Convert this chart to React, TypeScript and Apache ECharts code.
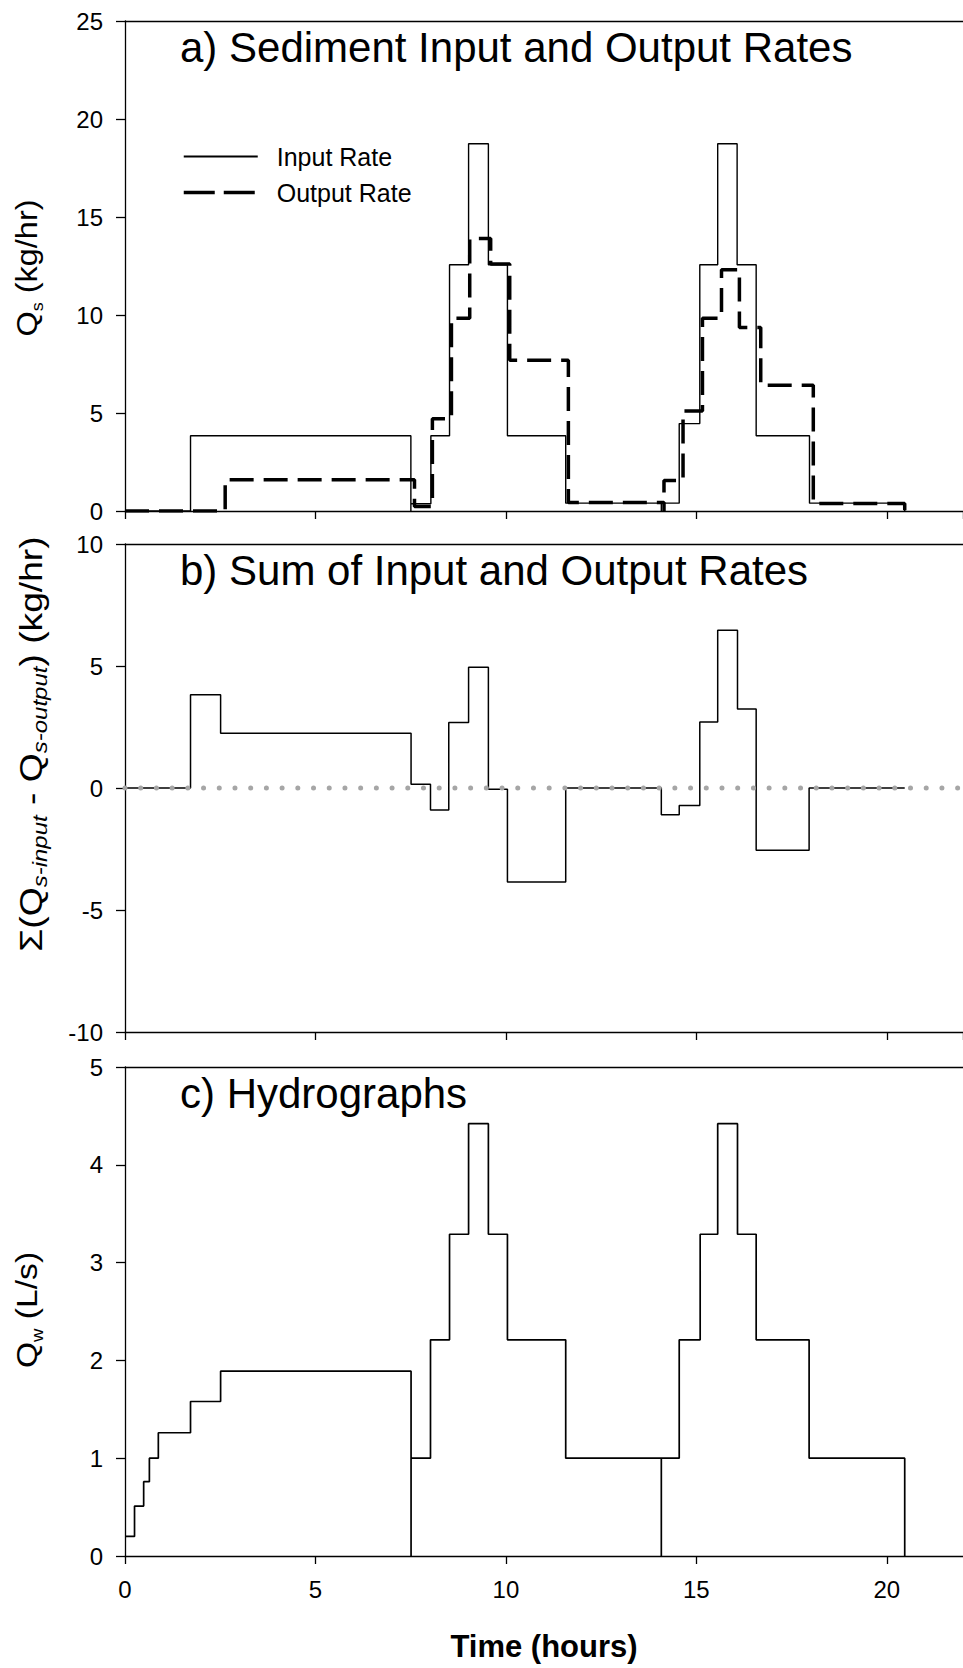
import React, { useEffect, useRef } from 'react';
import * as echarts from 'echarts';

// Time axis (hours)
const xMin = 0;
const xMax = 22;
const xInterval = 5;

// Panel a: sediment input rate (kg/hr) – [time, value from that time]
const inputRate: [number, number][] = [
  [0, 0], [1.72, 3.84], [7.505, 0], [7.505, 0.37], [8.03, 3.84], [8.52, 12.56],
  [9.02, 18.74], [9.54, 12.56], [10.04, 3.84], [11.57, 0.4], [14.08, 0], [14.08, 0.4],
  [14.55, 4.46], [15.09, 12.56], [15.56, 18.74], [16.07, 12.56], [16.57, 3.84],
  [17.97, 0.4], [20.47, 0],
];

// Panel a: sediment output rate (kg/hr)
const outputRate: [number, number][] = [
  [0, 0], [2.63, 1.6], [7.6, 0.23], [8.07, 4.71], [8.57, 9.84], [9.05, 13.9],
  [9.6, 12.6], [10.1, 7.69], [11.64, 0.43], [14.15, 0], [14.15, 1.55], [14.65, 5.1],
  [15.16, 9.84], [15.66, 12.31], [16.13, 9.36], [16.69, 6.42], [18.07, 0.38], [20.47, 0],
];

// Panel b: sum of input and output rates (kg/hr)
const sumRate: [number, number][] = [
  [0, 0], [1.72, 3.82], [2.51, 2.24], [7.51, 0.155], [8.02, -0.9], [8.5, 2.68],
  [9.02, 4.95], [9.54, -0.05], [10.04, -3.85], [11.57, 0], [14.08, -1.1], [14.55, -0.72],
  [15.09, 2.71], [15.56, 6.47], [16.08, 3.24], [16.57, -2.55], [17.96, 0], [20.47, 0],
];

// Panel b: zero reference line
const zeroLine: [number, number][] = [[0, 0], [22, 0]];

// Panel c: hydrograph (L/s)
const hydrograph: [number, number][] = [
  [0, 0.2], [0.25, 0.51], [0.49, 0.76], [0.64, 1.0], [0.875, 1.26], [1.72, 1.58],
  [2.51, 1.89], [7.51, 0], [7.51, 1.0], [8.02, 2.21], [8.52, 3.29], [9.02, 4.42],
  [9.54, 3.29], [10.04, 2.21], [11.57, 1.0], [14.08, 0], [14.08, 1.0], [14.55, 2.21],
  [15.1, 3.29], [15.56, 4.42], [16.08, 3.29], [16.57, 2.21], [17.96, 1.0], [20.47, 0],
];

// Y axis ranges per panel
const yRanges = [
  { min: 0, max: 25, interval: 5 },
  { min: -10, max: 10, interval: 5 },
  { min: 0, max: 5, interval: 1 },
];

const titles = [
  'a) Sediment Input and Output Rates',
  'b) Sum of Input and Output Rates',
  'c) Hydrographs',
];

const legendNames = ['Input Rate', 'Output Rate'];
const xAxisName = 'Time (hours)';

const FONT = '"Liberation Sans", Arial, sans-serif';

export default function App() {
  const ref = useRef<HTMLDivElement>(null);

  useEffect(() => {
    const chart = echarts.init(ref.current!, null, { renderer: 'svg' });

    const grids = [
      { left: 125, top: 21, width: 843, height: 490 },
      { left: 125, top: 544, width: 843, height: 488 },
      { left: 125, top: 1067, width: 843, height: 489 },
    ];

    const axisLine = { show: true, onZero: false, lineStyle: { color: '#000', width: 1.3 } };

    const xAxes: any[] = [];
    grids.forEach((_, i) => {
      xAxes.push({
        type: 'value',
        gridIndex: i,
        min: xMin,
        max: xMax,
        interval: xInterval,
        position: 'bottom',
        axisLine,
        axisTick: { show: true, length: 8, lineStyle: { color: '#000', width: 1.3 } },
        axisLabel: {
          show: i === 2,
          showMaxLabel: false,
          margin: 21,
          fontSize: 24,
          fontFamily: FONT,
          color: '#000',
        },
        splitLine: { show: false },
        name: i === 2 ? xAxisName : '',
        nameLocation: 'middle',
        nameGap: 75,
        nameTextStyle: { fontSize: 31, fontWeight: 'bold', fontFamily: FONT, color: '#000' },
      });
      xAxes.push({
        type: 'value',
        gridIndex: i,
        min: xMin,
        max: xMax,
        interval: xInterval,
        position: 'top',
        axisLine,
        axisTick: { show: false },
        axisLabel: { show: false },
        splitLine: { show: false },
      });
    });

    const yAxes = yRanges.map((r, i) => ({
      type: 'value',
      gridIndex: i,
      min: r.min,
      max: r.max,
      interval: r.interval,
      axisLine,
      axisTick: { show: true, length: 9, lineStyle: { color: '#000', width: 1.3 } },
      axisLabel: { margin: 22, fontSize: 24, fontFamily: FONT, color: '#000' },
      splitLine: { show: false },
    }));

    const titleBaselines = [62, 585, 1108];
    const titleGraphics = titles.map((t, i) => ({
      type: 'text',
      x: 180,
      y: titleBaselines[i] - 14.6,
      style: {
        text: t,
        fontSize: 42,
        fontFamily: FONT,
        fill: '#000',
        verticalAlign: 'middle',
        align: 'left',
      },
    }));

    const mainA = { fontSize: 29, fontFamily: FONT, lineHeight: 37, fill: '#000' };
    const subA = { fontSize: 16, fontFamily: FONT, lineHeight: 22, verticalAlign: 'bottom', fill: '#000' };
    const mainB = { fontSize: 31, fontFamily: FONT, lineHeight: 39, fill: '#000' };
    const subB = { fontSize: 20, fontFamily: FONT, fontStyle: 'italic', lineHeight: 26, verticalAlign: 'bottom', fill: '#000' };

    const yNameGraphics = [
      {
        type: 'text',
        x: 27,
        y: 268,
        rotation: Math.PI / 2,
        scaleX: 1.12,
        style: {
          text: '{m|Q}{s|s}{m| (kg/hr)}',
          rich: { m: mainA, s: subA },
          align: 'center',
          verticalAlign: 'middle',
        },
      },
      {
        type: 'text',
        x: 31,
        y: 744,
        rotation: Math.PI / 2,
        scaleX: 1.2,
        style: {
          text: '{m|\u03A3(Q}{s|s-input}{m| - Q}{s|s-output}{m|) (kg/hr)}',
          rich: { m: mainB, s: subB },
          align: 'center',
          verticalAlign: 'middle',
        },
      },
      {
        type: 'text',
        x: 27,
        y: 1310,
        rotation: Math.PI / 2,
        scaleX: 1.16,
        style: {
          text: '{m|Q}{s|w}{m| (L/s)}',
          rich: { m: mainA, s: subA },
          align: 'center',
          verticalAlign: 'middle',
        },
      },
    ];

    chart.setOption({
      animation: false,
      backgroundColor: '#fff',
      grid: grids,
      xAxis: xAxes,
      yAxis: yAxes,
      legend: {
        data: [
          { name: legendNames[0] },
          { name: legendNames[1], lineStyle: { type: [31, 9], width: 3.5 } },
        ],
        orient: 'vertical',
        left: 182,
        top: 144,
        padding: 0,
        itemWidth: 74,
        itemHeight: 14,
        itemGap: 11,
        selectedMode: false,
        itemStyle: { color: 'rgba(0,0,0,0)', borderWidth: 0, opacity: 0 },
        textStyle: { fontSize: 25, fontFamily: FONT, color: '#000', padding: [0, 0, 0, 14] },
      },
      graphic: [...titleGraphics, ...yNameGraphics],
      series: [
        {
          name: legendNames[0],
          type: 'line',
          xAxisIndex: 0,
          yAxisIndex: 0,
          step: 'end',
          symbol: 'none',
          data: inputRate,
          lineStyle: { color: '#000', width: 1.4 },
          itemStyle: { color: '#000' },
          z: 3,
        },
        {
          name: legendNames[1],
          type: 'line',
          xAxisIndex: 0,
          yAxisIndex: 0,
          step: 'end',
          symbol: 'none',
          data: outputRate,
          lineStyle: { color: '#000', width: 3.5, type: [24, 10] },
          itemStyle: { color: '#000' },
          z: 2,
        },
        {
          name: 'Sum',
          type: 'line',
          xAxisIndex: 2,
          yAxisIndex: 1,
          step: 'end',
          symbol: 'none',
          data: sumRate,
          lineStyle: { color: '#000', width: 1.5 },
          z: 2,
        },
        {
          name: 'Zero',
          type: 'line',
          xAxisIndex: 2,
          yAxisIndex: 1,
          symbol: 'none',
          data: zeroLine,
          lineStyle: { color: '#a6a6a6', width: 5, type: [0.01, 15.7], cap: 'round' },
          z: 4,
        },
        {
          name: 'Hydrograph',
          type: 'line',
          xAxisIndex: 4,
          yAxisIndex: 2,
          step: 'end',
          symbol: 'none',
          data: hydrograph,
          lineStyle: { color: '#000', width: 1.7 },
          z: 2,
        },
      ],
    });

    return () => chart.dispose();
  }, []);

  return (
    <div
      ref={ref}
      style={{ position: 'absolute', left: 0, top: 0, width: 963, height: 1668, background: '#fff' }}
    />
  );
}
